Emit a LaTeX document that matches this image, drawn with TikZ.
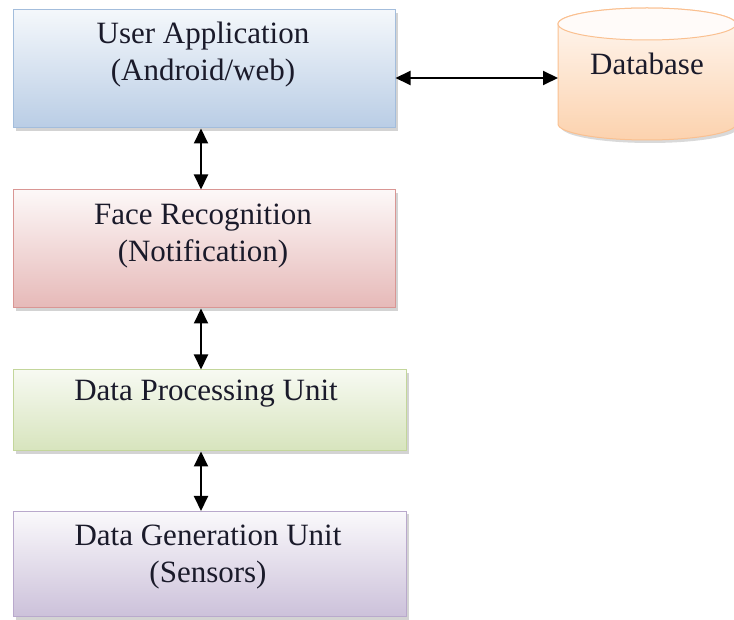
\documentclass[tikz,border=0pt]{standalone}
\usepackage{fontspec}
\setmainfont{Liberation Serif}
\usetikzlibrary{arrows.meta,shadows}
\definecolor{bluefill}{HTML}{B9CDE5}
\definecolor{blueline}{HTML}{A3BDDC}
\definecolor{redfill}{HTML}{E6B9B8}
\definecolor{redline}{HTML}{D99694}
\definecolor{greenfill}{HTML}{D7E4BD}
\definecolor{greenline}{HTML}{C3D69B}
\definecolor{purplefill}{HTML}{CCC1DA}
\definecolor{purpleline}{HTML}{B9A9CC}
\definecolor{orangefill}{HTML}{FCD2AE}
\definecolor{orangeline}{HTML}{FAC090}
\definecolor{textcol}{HTML}{1A1A2A}
\tikzset{
  blockbox/.style={rectangle, line width=1pt, inner sep=0pt,
    drop shadow={shadow xshift=3pt, shadow yshift=-3pt, opacity=0.35, fill=gray}},
  bluebox/.style={blockbox, draw=blueline, top color=bluefill!15!white, bottom color=bluefill},
  redbox/.style={blockbox, draw=redline, top color=redfill!10!white, bottom color=redfill},
  greenbox/.style={blockbox, draw=greenline, top color=greenfill!20!white, bottom color=greenfill},
  purplebox/.style={blockbox, draw=purpleline, top color=purplefill!10!white, bottom color=purplefill},
  boxtext/.style={align=center, inner sep=0pt, text=textcol, font=\fontsize{31}{37}\selectfont},
  tiphead/.tip={Triangle[length=15pt,width=14pt]},
  arr/.style={line width=2pt, tiphead-tiphead}
}
\begin{document}
\begin{tikzpicture}[x=1pt,y=1pt]
\useasboundingbox (0,0) rectangle (734,619);
% boxes
\node[bluebox, minimum width=382pt, minimum height=118pt] (ua) at (204,550) {};
\node[boxtext] (uat) at (203,564) {User Application\\(Android/web)};
\node[redbox, minimum width=382pt, minimum height=118pt] (fr) at (204,370) {};
\node[boxtext] (frt) at (203,383) {Face Recognition\\(Notification)};
\node[greenbox, minimum width=393pt, minimum height=81pt] (dp) at (209.5,208.5) {};
\node[boxtext] (dpt) at (206,225) {Data Processing Unit};
\node[purplebox, minimum width=393pt, minimum height=105pt] (dg) at (209.5,55) {};
\node[boxtext] (dgt) at (208,62) {Data Generation Unit\\(Sensors)};
% database cylinder
\fill[gray, opacity=0.3] (561,592) -- (561,492) arc[start angle=180, end angle=360, x radius=89, y radius=16] -- (739,592) -- cycle;
\shade[top color=orangefill!15!white, bottom color=orangefill, draw=orangeline, line width=1pt]
  (558,595) -- (558,495) arc[start angle=180, end angle=360, x radius=89, y radius=16]
  -- (736,595) arc[start angle=0, end angle=180, x radius=89, y radius=16] -- cycle;
\draw[orangeline, line width=1pt, fill=orangefill!8!white] (647,595) ellipse[x radius=89, y radius=16];
\node[boxtext] (db) at (647,555) {Database};
\coordinate (dbl) at (558,541);
\coordinate (ax) at (201,0);
% connectors
\draw[arr] (ua.east |- dbl) -- (dbl);
\draw[arr] (ax |- ua.south) -- (ax |- fr.north);
\draw[arr] (ax |- fr.south) -- (ax |- dp.north);
\draw[arr] (ax |- dp.south) -- (ax |- dg.north);
\end{tikzpicture}
\end{document}
